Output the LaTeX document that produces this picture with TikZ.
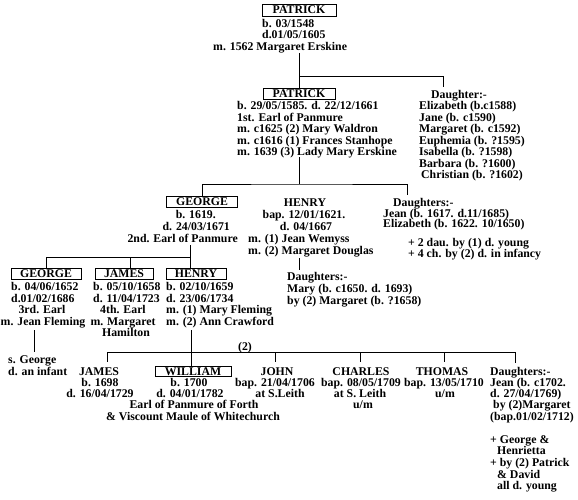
\documentclass[tikz,border=0pt]{standalone}
\usepackage{fontspec}
\setmainfont{Liberation Serif}
\begin{document}
\begin{tikzpicture}[x=1pt,y=-1pt,
  t/.style={inner sep=0pt, text height=7.8pt, text depth=0pt, font=\bfseries\fontsize{11.8pt}{13pt}\selectfont},
  tl/.style={t, anchor=west},
  tr/.style={t, anchor=east},
  namebox/.style={t, draw, line width=0.9pt, minimum height=11pt},
  ln/.style={line width=0.9pt}]
\fill[white] (0,0) rectangle (578,500);
\useasboundingbox (0,0) rectangle (578,500);

% ---------- generation 1
\node[namebox, minimum width=74pt, minimum height=12pt] (p1) at (299,10) {PATRICK};
\node[tl] (p1b) at (262,24) {b. 03/1548};
\node[tl] (p1d) at (262,35) {d.01/05/1605};
\node[tl] (p1m) at (213,46.5) {m. 1562 Margaret Erskine};
\coordinate (s1) at (299,53);
\coordinate (j1) at (299,76);
\coordinate (d1) at (443,87);

% ---------- generation 2
\node[namebox, minimum width=72pt] (p2) at (299,94) {PATRICK};
\node[tl] (p2a) at (237,106) {b. 29/05/1585. d. 22/12/1661};
\node[tl] (p2b) at (237,117.5) {1st. Earl of Panmure};
\node[tl] (p2c) at (237,129) {m. c1625 (2) Mary Waldron};
\node[tl] (p2d) at (237,140.5) {m. c1616 (1) Frances Stanhope};
\node[tl] (p2e) at (237,152) {m. 1639 (3) Lady Mary Erskine};

\node[tl] (dh1) at (431,95) {Daughter:-};
\node[tl] (dh1a) at (419,106) {Elizabeth (b.c1588)};
\node[tl] (dh1b) at (419,117.5) {Jane (b. c1590)};
\node[tl] (dh1c) at (419,129) {Margaret (b. c1592)};
\node[tl] (dh1d) at (419,140.5) {Euphemia (b. ?1595)};
\node[tl] (dh1e) at (419,152) {Isabella (b. ?1598)};
\node[tl] (dh1f) at (419,163.5) {Barbara (b. ?1600)};
\node[tl] (dh1g) at (421,175) {Christian (b. ?1602)};

\draw[ln] (s1) -- (p2.north);
\draw[ln] (j1) -| (d1);

% ---------- generation 3
\coordinate (s2) at (299,157);
\coordinate (j2) at (299,184);
\coordinate (d2) at (407,195);
\node[namebox, minimum width=71pt] (g3) at (202,202) {GEORGE};
\node[tr] (g3a) at (216,215) {b. 1619.};
\node[tr] (g3b) at (230,227) {d. 24/03/1671};
\node[tr] (g3c) at (238,239) {2nd. Earl of Panmure};

\node[t] (h3) at (305,203) {HENRY};
\node[t] (h3a) at (304,215) {bap. 12/01/1621.};
\node[t] (h3b) at (306,227) {d. 04/1667};
\node[tl] (h3c) at (248,239) {m. (1) Jean Wemyss};
\node[tl] (h3d) at (248,251) {m. (2) Margaret Douglas};
\coordinate (s3) at (299,258);
\coordinate (e3) at (299,270);
\node[tl] (hd) at (287,277) {Daughters:-};
\node[tl] (hda) at (287,289) {Mary (b. c1650. d. 1693)};
\node[tl] (hdb) at (287,301) {by (2) Margaret (b. ?1658)};

\node[tl] (dh2) at (393,203) {Daughters:-};
\node[tl] (dh2a) at (383,213.5) {Jean (b. 1617. d.11/1685)};
\node[tl] (dh2b) at (383,224) {Elizabeth (b. 1622. 10/1650)};
\node[tl] (dh2c) at (408,243) {+ 2 dau. by (1) d. young};
\node[tl] (dh2d) at (408,254) {+ 4 ch. by (2) d. in infancy};

\draw[ln] (s2) -- (j2);
\draw[ln] (g3.north) |- (j2) -| (d2);
\draw[ln] (s3) -- (e3);

% ---------- generation 4
\node[namebox, minimum width=70pt] (g4) at (46,273.5) {GEORGE};
\node[namebox, minimum width=58pt] (j4) at (124,273.5) {JAMES};
\node[namebox, minimum width=60pt] (h4) at (196,273.5) {HENRY};
\coordinate (s4) at (190,245);
\coordinate (j4h) at (190,257);

\node[tl] (g4a) at (11,287) {b. 04/06/1652};
\node[tl] (g4b) at (11,298.5) {d.01/02/1686};
\node[t] (g4c) at (42,310) {3rd. Earl};
\node[tl] (g4d) at (0.5,322) {m. Jean Fleming};

\node[tl] (j4a) at (93,287) {b. 05/10/1658};
\node[tl] (j4b) at (93,298.5) {d. 11/04/1723};
\node[t] (j4c) at (123,310) {4th. Earl};
\node[t] (j4d) at (123,322) {m. Margaret};
\node[t] (j4e) at (126,333) {Hamilton};

\node[tl] (h4a) at (166,287) {b. 02/10/1659};
\node[tl] (h4b) at (166,298.5) {d. 23/06/1734};
\node[tl] (h4c) at (166,310) {m. (1) Mary Fleming};
\node[tl] (h4d) at (166,322) {m. (2) Ann Crawford};

\draw[ln] (s4) -- (s4 |- h4.north);
\draw[ln] (j4h) -| (g4.north);
\draw[ln] (j4h -| 130,0) -- (130,0 |- j4.north);

% George's son
\coordinate (s5) at (34,330);
\coordinate (e5) at (34,352);
\node[tl] (gs) at (8,360) {s. George};
\node[tl] (gsa) at (8,372) {d. an infant};
\draw[ln] (s5) -- (e5);

% ---------- generation 5
\coordinate (s6) at (191,330);
\coordinate (jl) at (107,352);
\coordinate (jr) at (515,352);
\node[namebox, minimum width=76pt, minimum height=10pt] (w5) at (193,371.5) {WILLIAM};
\node[t] (lab2) at (245,347) {(2)};

\node[t] (ja5) at (99,372) {JAMES};
\node[t] (ja5a) at (100,383) {b. 1698};
\node[t] (ja5b) at (100,394) {d. 16/04/1729};

\node[t] (w5a) at (189,383) {b. 1700};
\node[t] (w5b) at (190,394) {d. 04/01/1782};
\node[t] (w5c) at (194,405) {Earl of Panmure of Forth};
\node[t] (w5d) at (193,417) {\& Viscount Maule of Whitechurch};

\node[t] (jo5) at (277,372) {JOHN};
\node[t] (jo5a) at (275,383) {bap. 21/04/1706};
\node[t] (jo5b) at (280,394) {at S.Leith};

\node[t] (c5) at (361,372) {CHARLES};
\node[t] (c5a) at (361,383) {bap. 08/05/1709};
\node[t] (c5b) at (360,394) {at S. Leith};
\node[t] (c5c) at (363,405) {u/m};

\node[t] (t5) at (442,372) {THOMAS};
\node[t] (t5a) at (444,383) {bap. 13/05/1710};
\node[t] (t5b) at (445,394) {u/m};

\node[tl] (d5) at (490,372) {Daughters:-};
\node[tl] (d5a) at (490,383) {Jean (b. c1702.};
\node[tl] (d5b) at (490,394) {d. 27/04/1769)};
\node[tl] (d5c) at (493,405) {by (2)Margaret};
\node[tl] (d5d) at (490,417) {(bap.01/02/1712)};
\node[tl] (d5e) at (490,440) {+ George \&};
\node[tl] (d5f) at (497,451) {Henrietta};
\node[tl] (d5g) at (490,463) {+ by (2) Patrick};
\node[tl] (d5h) at (497,475) {\& David};
\node[tl] (d5i) at (497,486) {all d. young};

\draw[ln] (s6) -- (s6 |- w5.north);
\draw[ln] (jl) -- (jr);
\draw[ln] (jl) -- ++(0,10);
\draw[ln] (jl -| 275,0) -- ++(0,10);
\draw[ln] (jl -| 360,0) -- ++(0,10);
\draw[ln] (jl -| 444,0) -- ++(0,10);
\draw[ln] (jr) -- ++(0,11);
\end{tikzpicture}
\end{document}
